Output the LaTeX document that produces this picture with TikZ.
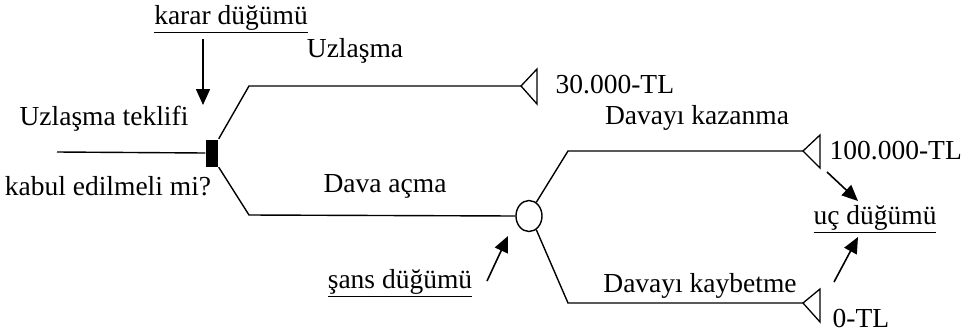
\documentclass[tikz,border=0pt]{standalone}
\usepackage{fontspec}
\setmainfont{Liberation Serif}
\usetikzlibrary{arrows.meta,shapes.geometric}
\begin{document}
\begin{tikzpicture}[x=1pt,y=-1pt,
  line width=1.4pt,
  lbl/.style={font=\fontsize{27.5}{30}\selectfont, inner sep=0pt},
  arr/.style={-{Triangle[length=16pt,width=14pt]}, line width=1.6pt},
  term/.style={line width=1.3pt}]
\useasboundingbox (0,0) rectangle (970,333);
% nodes
\node[fill=black, minimum width=12pt, minimum height=27pt, inner sep=0pt] (dec) at (212,153) {};
\coordinate (start) at (57,152);
\node[draw, ellipse, minimum width=26pt, minimum height=31pt, inner sep=0pt, line width=1.4pt] (ch) at (529,216) {};
\coordinate (b1) at (249,86);
\coordinate (b2) at (249,215);
\coordinate (b3) at (568,151);
\coordinate (b4) at (568,303);
\coordinate (t1) at (521,86);
\coordinate (t2) at (803,151);
\coordinate (t3) at (803,303);
% terminal triangles
\draw[term] (t1) -- ++(16,-17) -- ++(0,35) -- cycle;
\draw[term] (t2) -- ++(17,-16) -- ++(0,33) -- cycle;
\draw[term] (t3) -- ++(17,-14) -- ++(0,33) -- cycle;
% branches
\draw (start) -- (dec.west);
\draw (dec.north east) -- (b1) -- (t1);
\draw (dec.south east) -- (b2) -- (ch.west);
\draw (ch.62) -- (b3) -- (t2);
\draw (ch.-62) -- (b4) -- (t3);
% labels
\node[lbl] (karar) at (231,19) {\underline{karar düğümü}};
\node[lbl] (teklif) at (104,119) {Uzlaşma teklifi};
\node[lbl] (kabul) at (108,186) {kabul edilmeli mi?};
\node[lbl] (uzl) at (355,51) {Uzlaşma};
\node[lbl, anchor=west] (v1) at (555,85) {30.000-TL};
\node[lbl] (dava) at (385,186) {Dava açma};
\node[lbl] (kaz) at (697,118) {Davayı kazanma};
\node[lbl, anchor=west] (v2) at (829,151) {100.000-TL};
\node[lbl] (uc) at (875,219) {\underline{uç düğümü}};
\node[lbl] (kay) at (700,286) {Davayı kaybetme};
\node[lbl, anchor=west] (v3) at (832,318) {0-TL};
\node[lbl] (sans) at (400,283) {\underline{şans düğümü}};
% pointer arrows
\coordinate (a1s) at (203,39);
\coordinate (a1e) at (203,105);
\draw[arr] (a1s) -- (a1e);
\coordinate (a2s) at (487,281);
\coordinate (a2e) at (508,236);
\draw[arr] (a2s) -- (a2e);
\coordinate (a3s) at (827,172);
\coordinate (a3e) at (858,201);
\draw[arr] (a3s) -- (a3e);
\coordinate (a4s) at (834,282);
\coordinate (a4e) at (858,237);
\draw[arr] (a4s) -- (a4e);
\end{tikzpicture}
\end{document}
